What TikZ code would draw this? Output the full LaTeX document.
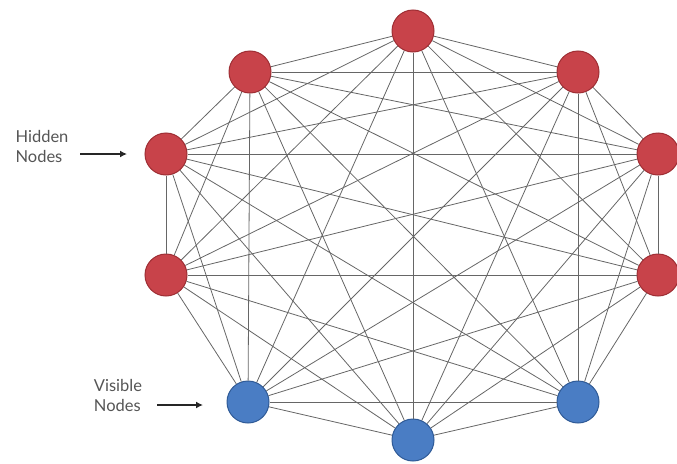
\documentclass[tikz,border=0pt]{standalone}
\usepackage{fontspec}
\setmainfont{Lato}
\usepackage{xcolor}
\usepackage{tikz}
\usetikzlibrary{arrows.meta,positioning}
\definecolor{hiddenred}{HTML}{C8434A}
\definecolor{hiddenedge}{HTML}{9E2E34}
\definecolor{visblue}{HTML}{4A7DC4}
\definecolor{visedge}{HTML}{2F5A96}
\definecolor{labelgray}{HTML}{555555}
\tikzset{
  hiddennode/.style={circle, draw=hiddenedge, fill=hiddenred, line width=1pt, minimum size=42pt, inner sep=0pt},
  visiblenode/.style={circle, draw=visedge, fill=visblue, line width=1pt, minimum size=42pt, inner sep=0pt},
  linkline/.style={draw=black!60, line width=0.8pt},
  notelabel/.style={align=left, font=\fontsize{16.5}{20}\selectfont, text=labelgray, inner sep=0pt},
  notearrow/.style={-{Latex[length=7pt,width=7pt]}, line width=1.4pt, black!85}
}
\begin{document}
\begin{tikzpicture}[x=1pt,y=-1pt]
\useasboundingbox (0,0) rectangle (677,463);
% nodes around the ring
\node[hiddennode] (n0) at (413,31) {};
\node[hiddennode] (n1) at (578,72) {};
\node[hiddennode] (n2) at (658,154) {};
\node[hiddennode] (n3) at (658,275) {};
\node[visiblenode] (n4) at (578,402) {};
\node[visiblenode] (n5) at (413,440) {};
\node[visiblenode] (n6) at (248,402) {};
\node[hiddennode] (n7) at (166,275) {};
\node[hiddennode] (n8) at (166,154) {};
\node[hiddennode] (n9) at (250,72) {};
% every node linked to every other one
\foreach \i in {0,...,8} {
  \pgfmathtruncatemacro\k{\i+1}
  \foreach \j in {\k,...,9}
    \draw[linkline] (n\i) -- (n\j);
}
% labels
\node[notelabel] (hiddentext) at (42,146) {Hidden\\Nodes};
\node[notelabel] (visibletext) at (118,395) {Visible\\Nodes};
\coordinate (hiddenstart) at (80,154);
\coordinate (hiddentip) at (127,154);
\coordinate (visiblestart) at (157,405);
\coordinate (visibletip) at (203,405);
\draw[notearrow] (hiddenstart) -- (hiddentip);
\draw[notearrow] (visiblestart) -- (visibletip);
\end{tikzpicture}
\end{document}
